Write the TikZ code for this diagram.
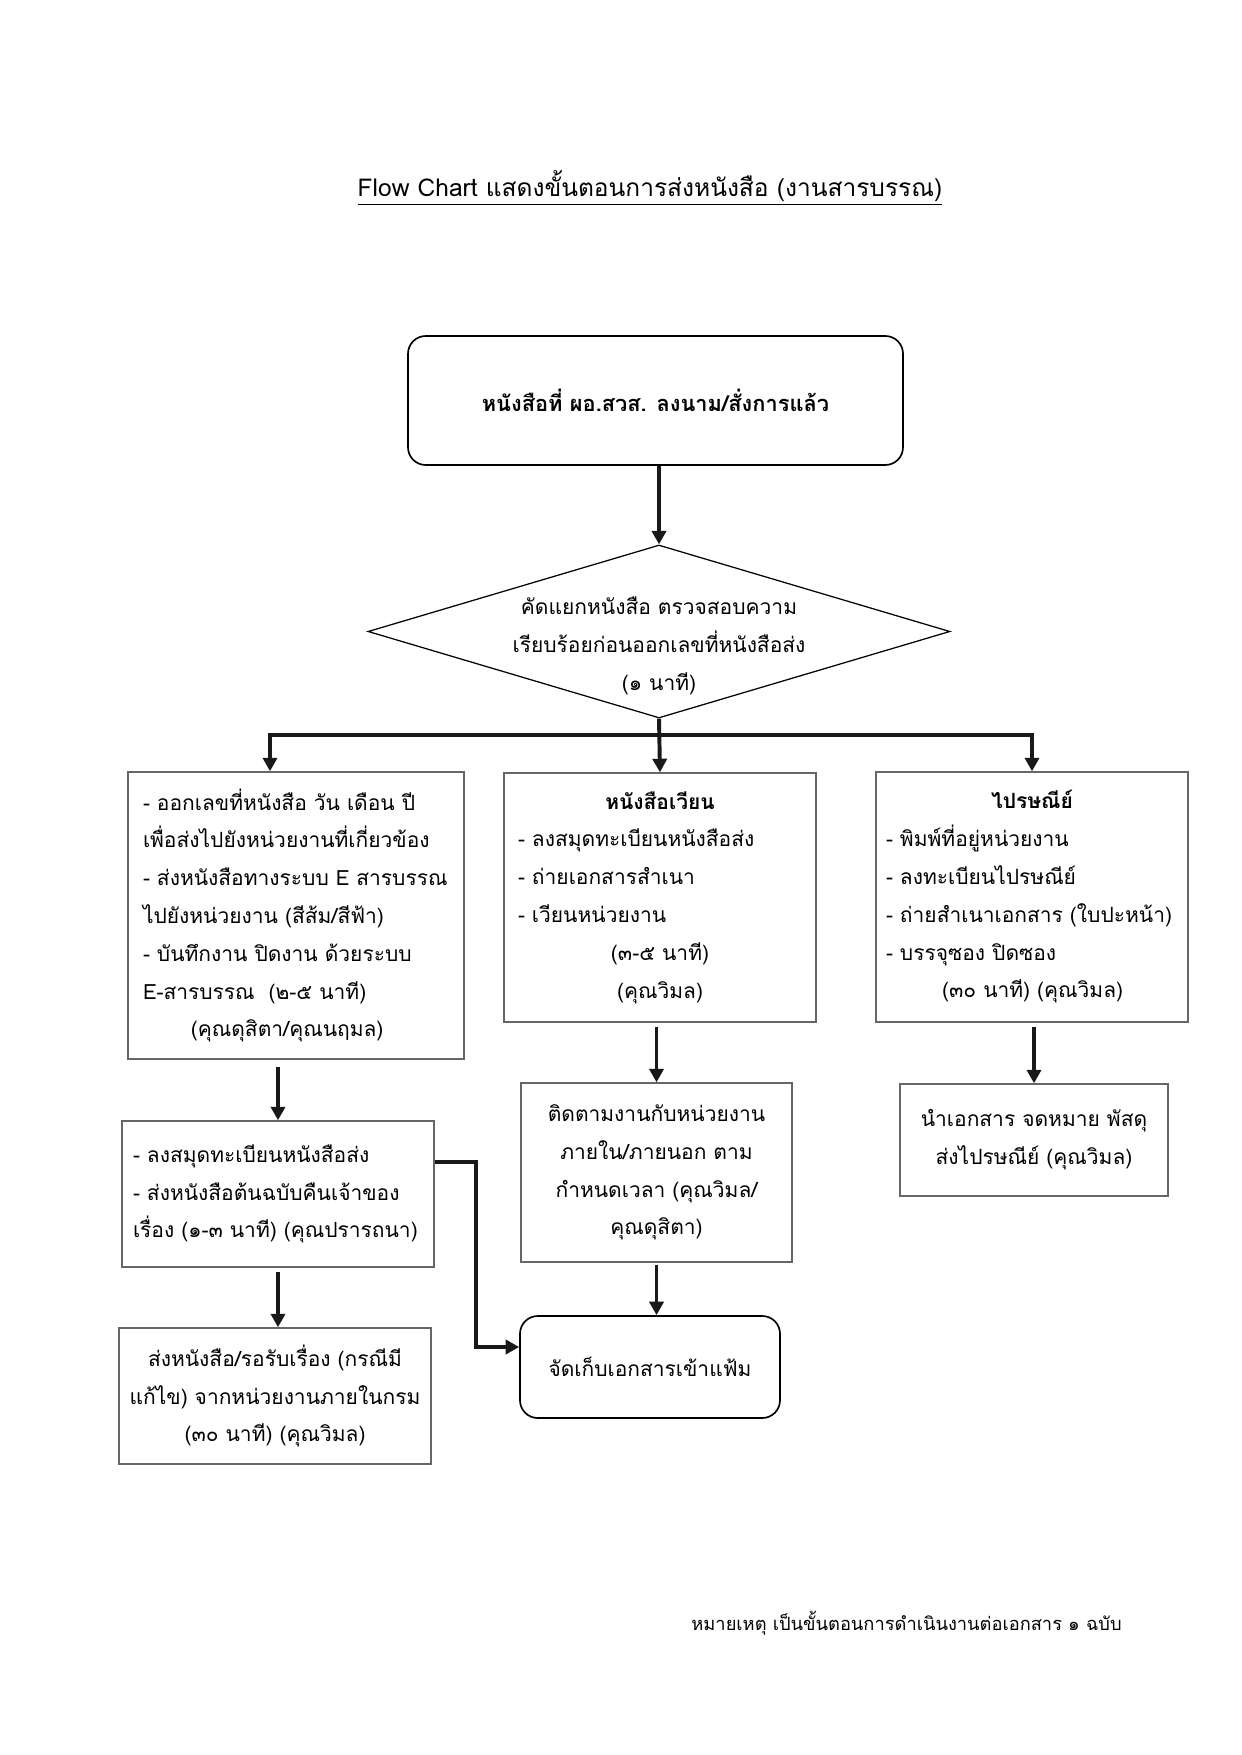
\documentclass[tikz,border=0pt]{standalone}
\usepackage{fontspec}
\newfontfamily\thai[Script=Thai]{Loma}
\usetikzlibrary{shapes.geometric,arrows.meta,calc}
\setlength{\parindent}{0pt}
\newcommand{\pxu}{0.16922mm}
\newcommand{\ctr}[1]{\noindent\makebox[\hsize][c]{#1}}
\begin{document}
\begin{tikzpicture}[x=0.16922mm,y=-0.16922mm,
  every node/.style={font={\thai\fontsize{10.1pt}{18.2pt}\selectfont}, text=black},
  gbox/.style={draw=black!60, line width=0.7pt, rectangle, inner sep=0pt},
  rbox/.style={draw=black, line width=0.8pt, rectangle, rounded corners=3mm, inner sep=0pt},
  ltext/.style={align=left, inner xsep=15*\pxu},
  ctext/.style={align=center, inner xsep=4*\pxu},
  conn/.style={line width=1.9pt, draw=black!90, line join=miter,
    -{Triangle[width=6.8pt,length=6.5pt]}},
  plain/.style={line width=1.9pt, draw=black!90}]
\useasboundingbox (0,0) rectangle (1241,1755);
\fill[white] (0,0) rectangle (1241,1755);

% title
\node (title) at (650,188) {\fontsize{11.8pt}{16pt}\selectfont\underline{Flow Chart แสดงขั้นตอนการส่งหนังสือ (งานสารบรรณ)}};

% top
\node[rbox, minimum width=495*\pxu, minimum height=129*\pxu, text depth=0pt, font={\thai\bfseries\fontsize{10.5pt}{18.2pt}\selectfont}] (top) at (655.5,400.5) {หนังสือที่ ผอ.สวส. ลงนาม/สั่งการแล้ว};

% diamond
\node[draw=black, line width=0.6pt, diamond, minimum width=582*\pxu, minimum height=173*\pxu, inner sep=0pt] (dia) at (659,631.5) {};
\node[ctext] (diat) at (659,646) {คัดแยกหนังสือ ตรวจสอบความ\\เรียบร้อยก่อนออกเลขที่หนังสือส่ง\\(๑ นาที)};

% second row
\node[gbox, ltext, text width=306*\pxu, minimum height=287*\pxu] (b1) at (296,915.5) {%
- ออกเลขที่หนังสือ วัน เดือน ปี\\
เพื่อส่งไปยังหน่วยงานที่เกี่ยวข้อง\\
- ส่งหนังสือทางระบบ E สารบรรณ\\
ไปยังหน่วยงาน (สีส้ม/สีฟ้า)\\
- บันทึกงาน ปิดงาน ด้วยระบบ\\
E-สารบรรณ~ (๒-๕ นาที)\\
\hspace*{8.1mm}(คุณดุสิตา/คุณนฤมล)};

\node[gbox, ltext, text width=284*\pxu, inner xsep=14*\pxu, minimum height=249*\pxu] (b2) at (660,897.5) {%
\ctr{\bfseries หนังสือเวียน}\\
- ลงสมุดทะเบียนหนังสือส่ง\\
- ถ่ายเอกสารสำเนา\\
- เวียนหน่วยงาน\\
\ctr{(๓-๕ นาที)}\\
\ctr{(คุณวิมล)}};

\node[gbox, ltext, text width=292*\pxu, inner xsep=10*\pxu, minimum height=250*\pxu] (b3) at (1032,897) {%
\ctr{\bfseries ไปรษณีย์}\\
- พิมพ์ที่อยู่หน่วยงาน\\
- ลงทะเบียนไปรษณีย์\\
- ถ่ายสำเนาเอกสาร (ใบปะหน้า)\\
- บรรจุซอง ปิดซอง\\
\hspace*{9.5mm}(๓๐ นาที) (คุณวิมล)};

% third row
\node[gbox, ltext, text width=290*\pxu, inner xsep=11*\pxu, minimum height=146*\pxu] (c1) at (278,1194) {%
- ลงสมุดทะเบียนหนังสือส่ง\\
- ส่งหนังสือต้นฉบับคืนเจ้าของ\\
เรื่อง (๑-๓ นาที) (คุณปรารถนา)};

\node[gbox, ctext, text width=263*\pxu, minimum height=179*\pxu] (c2) at (656.5,1172.5) {%
ติดตามงานกับหน่วยงาน\\ภายใน/ภายนอก ตาม\\กำหนดเวลา (คุณวิมล/\\คุณดุสิตา)};

\node[gbox, ctext, text width=260*\pxu, minimum height=112*\pxu] (c3) at (1034,1140) {%
นำเอกสาร จดหมาย พัสดุ\\ส่งไปรษณีย์ (คุณวิมล)};

% fourth row
\node[gbox, ctext, text width=304*\pxu, minimum height=136*\pxu] (d1) at (275,1396) {%
ส่งหนังสือ/รอรับเรื่อง (กรณีมี\\แก้ไข) จากหน่วยงานภายในกรม\\(๓๐ นาที) (คุณวิมล)};

\node[rbox, ctext, minimum width=260*\pxu, minimum height=102*\pxu] (e) at (650,1367) {จัดเก็บเอกสารเข้าแฟ้ม};

% footnote
\node[anchor=east, inner sep=0pt, font={\thai\fontsize{8.8pt}{12pt}\selectfont}] (note) at (1122,1623) {หมายเหตุ เป็นขั้นตอนการดำเนินงานต่อเอกสาร ๑ ฉบับ};

% connectors
\coordinate (busL) at (270,735);
\coordinate (busR) at (1032,735);
\coordinate (elb1) at (476,1162);
\coordinate (elb2) at (476,1347);

\draw[conn] (dia.north |- top.south) -- (dia.north);
\draw[conn] (dia.south) -- (b2.north);
\draw[conn] (dia.south |- busL) -- (busL) -- (busL |- b1.north);
\draw[conn] (dia.south |- busR) -- (busR) -- (b3.north);
\draw[conn, shorten <=7*\pxu] (c1.north |- b1.south) -- (c1.north);
\draw[conn, shorten <=4*\pxu] (c1.south) -- (c1.south |- d1.north);
\draw[conn, shorten <=4*\pxu] (c2.north |- b2.south) -- (c2.north);
\draw[conn, shorten <=4*\pxu] (c3.north |- b3.south) -- (c3.north);
\draw[conn, shorten <=2*\pxu] (c2.south) -- (c2.south |- e.north);
\draw[conn] (c1.east |- elb1) -- (elb1) -- (elb2) -- (e.west |- elb2);
\end{tikzpicture}
\end{document}
